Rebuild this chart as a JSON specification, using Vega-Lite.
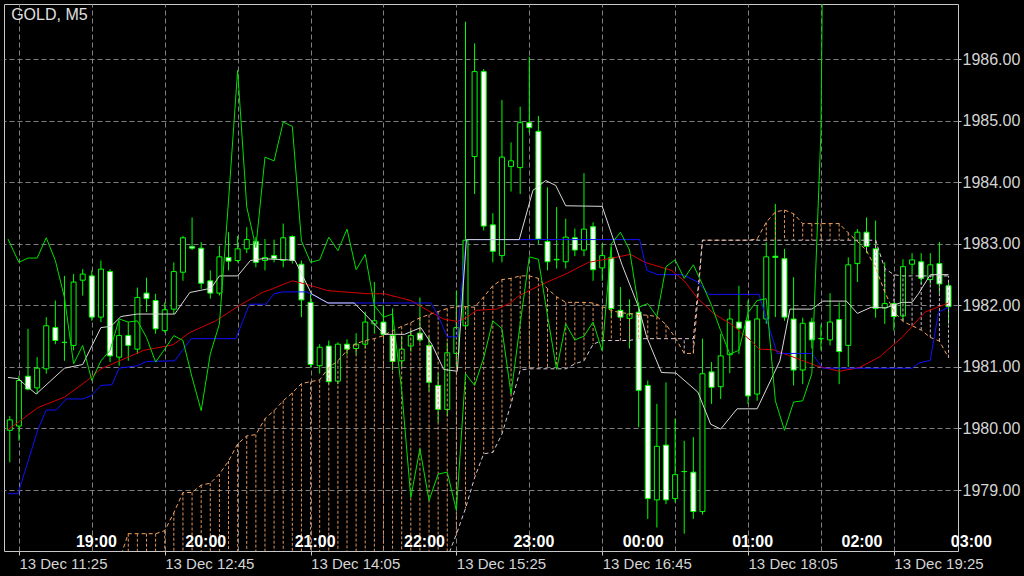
{
  "$schema": "https://vega.github.io/schema/vega-lite/v6.json",
  "width": 954,
  "height": 547,
  "autosize": {"type": "none"},
  "padding": {"left": 4, "top": 4, "right": 66, "bottom": 25},
  "background": "#000000",
  "view": {"stroke": "#c8c8c8", "strokeWidth": 1, "fill": "#000000"},
  "config": {"font": "Liberation Sans"},
  "datasets": {
    "candles": [
      {"i": -1, "o": 1979.97, "h": 1980.2, "l": 1979.45, "c": 1980.14},
      {"i": 0, "o": 1980.04, "h": 1980.86, "l": 1979.8, "c": 1980.78},
      {"i": 1, "o": 1980.85, "h": 1981.62, "l": 1980.62, "c": 1980.64},
      {"i": 2, "o": 1980.66, "h": 1981.16, "l": 1980.56, "c": 1980.98},
      {"i": 3, "o": 1980.97, "h": 1981.81, "l": 1980.89, "c": 1981.67},
      {"i": 4, "o": 1981.64, "h": 1982.08, "l": 1981.37, "c": 1981.43},
      {"i": 5, "o": 1981.4, "h": 1982.48, "l": 1981.1, "c": 1981.4},
      {"i": 6, "o": 1981.35, "h": 1982.51, "l": 1981.27, "c": 1982.38},
      {"i": 7, "o": 1982.41, "h": 1982.59, "l": 1982.16, "c": 1982.51},
      {"i": 8, "o": 1982.48, "h": 1982.57, "l": 1981.75, "c": 1981.81},
      {"i": 9, "o": 1981.81, "h": 1982.73, "l": 1981.73, "c": 1982.59},
      {"i": 10, "o": 1982.55, "h": 1982.59, "l": 1981.08, "c": 1981.18},
      {"i": 11, "o": 1981.16, "h": 1981.75, "l": 1981.02, "c": 1981.51},
      {"i": 12, "o": 1981.51, "h": 1981.73, "l": 1981.1, "c": 1981.35},
      {"i": 13, "o": 1981.29, "h": 1982.29, "l": 1981.21, "c": 1982.13},
      {"i": 14, "o": 1982.2, "h": 1982.45, "l": 1981.89, "c": 1982.11},
      {"i": 15, "o": 1982.08, "h": 1982.19, "l": 1981.54, "c": 1981.62},
      {"i": 16, "o": 1981.59, "h": 1982.05, "l": 1981.56, "c": 1981.93},
      {"i": 17, "o": 1981.94, "h": 1982.7, "l": 1981.86, "c": 1982.55},
      {"i": 18, "o": 1982.54, "h": 1983.13, "l": 1982.4, "c": 1983.1},
      {"i": 19, "o": 1982.96, "h": 1983.43, "l": 1982.9, "c": 1982.93},
      {"i": 20, "o": 1982.93, "h": 1983.03, "l": 1982.27, "c": 1982.36},
      {"i": 21, "o": 1982.4, "h": 1982.57, "l": 1982.11, "c": 1982.2},
      {"i": 22, "o": 1982.2, "h": 1982.97, "l": 1982.16, "c": 1982.79},
      {"i": 23, "o": 1982.78, "h": 1983.19, "l": 1982.57, "c": 1982.72},
      {"i": 24, "o": 1982.73, "h": 1983.13, "l": 1982.7, "c": 1982.92},
      {"i": 25, "o": 1982.92, "h": 1983.27, "l": 1982.85, "c": 1983.07},
      {"i": 26, "o": 1983.04, "h": 1983.11, "l": 1982.62, "c": 1982.7},
      {"i": 27, "o": 1982.73, "h": 1983.08, "l": 1982.57, "c": 1982.78},
      {"i": 28, "o": 1982.81, "h": 1983.07, "l": 1982.7, "c": 1982.76},
      {"i": 29, "o": 1982.73, "h": 1983.33, "l": 1982.62, "c": 1983.1},
      {"i": 30, "o": 1983.12, "h": 1983.14, "l": 1982.68, "c": 1982.73},
      {"i": 31, "o": 1982.67, "h": 1982.73, "l": 1981.81, "c": 1982.09},
      {"i": 32, "o": 1982.05, "h": 1982.19, "l": 1980.99, "c": 1981.04},
      {"i": 33, "o": 1981.02, "h": 1981.37, "l": 1980.89, "c": 1981.32},
      {"i": 34, "o": 1981.34, "h": 1981.43, "l": 1980.72, "c": 1980.76},
      {"i": 35, "o": 1980.77, "h": 1981.4, "l": 1980.72, "c": 1981.37},
      {"i": 36, "o": 1981.37, "h": 1981.45, "l": 1981.2, "c": 1981.29},
      {"i": 37, "o": 1981.3, "h": 1981.55, "l": 1981.2, "c": 1981.37},
      {"i": 38, "o": 1981.37, "h": 1981.9, "l": 1981.3, "c": 1981.73},
      {"i": 39, "o": 1981.7, "h": 1982.38, "l": 1981.54, "c": 1981.75},
      {"i": 40, "o": 1981.73, "h": 1982.0, "l": 1981.45, "c": 1981.53},
      {"i": 41, "o": 1981.51, "h": 1981.95, "l": 1980.95, "c": 1981.09},
      {"i": 42, "o": 1981.1, "h": 1981.5, "l": 1981.0, "c": 1981.29},
      {"i": 43, "o": 1981.34, "h": 1981.6, "l": 1981.25, "c": 1981.51},
      {"i": 44, "o": 1981.55, "h": 1982.13, "l": 1981.4, "c": 1981.44},
      {"i": 45, "o": 1981.35, "h": 1981.5, "l": 1980.6, "c": 1980.75},
      {"i": 46, "o": 1980.7, "h": 1980.9, "l": 1980.1, "c": 1980.31},
      {"i": 47, "o": 1980.31, "h": 1981.4, "l": 1980.2, "c": 1981.23},
      {"i": 48, "o": 1981.22, "h": 1982.24, "l": 1981.0, "c": 1981.64},
      {"i": 49, "o": 1981.67, "h": 1986.61, "l": 1981.6, "c": 1983.06},
      {"i": 50, "o": 1984.42, "h": 1986.26, "l": 1983.81, "c": 1985.8},
      {"i": 51, "o": 1985.8, "h": 1985.84, "l": 1983.22, "c": 1983.29},
      {"i": 52, "o": 1983.31, "h": 1983.5, "l": 1982.7, "c": 1982.88},
      {"i": 53, "o": 1982.81, "h": 1985.34, "l": 1982.7, "c": 1984.41},
      {"i": 54, "o": 1984.26, "h": 1984.65, "l": 1983.85, "c": 1984.35},
      {"i": 55, "o": 1984.24, "h": 1985.23, "l": 1983.81, "c": 1984.97},
      {"i": 56, "o": 1984.97, "h": 1986.04, "l": 1984.81, "c": 1984.89},
      {"i": 57, "o": 1984.83, "h": 1985.08, "l": 1983.0, "c": 1983.08},
      {"i": 58, "o": 1983.04, "h": 1983.92, "l": 1982.57, "c": 1982.71},
      {"i": 59, "o": 1982.75, "h": 1983.6, "l": 1982.6, "c": 1982.74},
      {"i": 60, "o": 1982.71, "h": 1983.41, "l": 1982.6, "c": 1983.11},
      {"i": 61, "o": 1983.1, "h": 1983.25, "l": 1982.8, "c": 1982.9},
      {"i": 62, "o": 1982.9, "h": 1984.15, "l": 1982.8, "c": 1983.24},
      {"i": 63, "o": 1983.28, "h": 1983.35, "l": 1982.4, "c": 1982.58},
      {"i": 64, "o": 1982.61, "h": 1983.0, "l": 1982.4, "c": 1982.81},
      {"i": 65, "o": 1982.78, "h": 1982.95, "l": 1981.8, "c": 1981.95},
      {"i": 66, "o": 1981.92, "h": 1982.3, "l": 1981.75, "c": 1981.81},
      {"i": 67, "o": 1981.79, "h": 1982.1, "l": 1981.3, "c": 1981.86},
      {"i": 68, "o": 1981.89, "h": 1982.05, "l": 1980.02, "c": 1980.62},
      {"i": 69, "o": 1980.7, "h": 1980.78, "l": 1978.53, "c": 1978.86},
      {"i": 70, "o": 1978.84, "h": 1980.4, "l": 1978.39, "c": 1979.71},
      {"i": 71, "o": 1979.73, "h": 1980.75, "l": 1978.77, "c": 1978.84},
      {"i": 72, "o": 1978.86, "h": 1980.16, "l": 1978.8, "c": 1979.25},
      {"i": 73, "o": 1979.3, "h": 1979.8, "l": 1978.29, "c": 1979.3},
      {"i": 74, "o": 1979.29, "h": 1979.86, "l": 1978.53, "c": 1978.65},
      {"i": 75, "o": 1978.65, "h": 1981.46, "l": 1978.6, "c": 1980.89},
      {"i": 76, "o": 1980.92, "h": 1981.08, "l": 1980.4, "c": 1980.67},
      {"i": 77, "o": 1980.68, "h": 1981.54, "l": 1980.48, "c": 1981.18},
      {"i": 78, "o": 1981.2, "h": 1981.94, "l": 1980.9, "c": 1981.78},
      {"i": 79, "o": 1981.73, "h": 1982.32, "l": 1981.21, "c": 1981.63},
      {"i": 80, "o": 1981.75, "h": 1982.08, "l": 1980.4, "c": 1980.53},
      {"i": 81, "o": 1980.56, "h": 1982.0, "l": 1980.45, "c": 1981.78},
      {"i": 82, "o": 1981.78, "h": 1983.03, "l": 1981.7, "c": 1982.79},
      {"i": 83, "o": 1982.8, "h": 1983.65, "l": 1981.81, "c": 1982.78},
      {"i": 84, "o": 1982.76, "h": 1982.92, "l": 1981.75, "c": 1981.81},
      {"i": 85, "o": 1981.78, "h": 1982.46, "l": 1980.7, "c": 1980.95},
      {"i": 86, "o": 1980.95, "h": 1981.8, "l": 1980.72, "c": 1981.71},
      {"i": 87, "o": 1981.73, "h": 1981.8, "l": 1981.3, "c": 1981.44},
      {"i": 88, "o": 1981.46, "h": 1981.69, "l": 1981.27, "c": 1981.46},
      {"i": 89, "o": 1981.44, "h": 1982.2, "l": 1981.35, "c": 1981.73},
      {"i": 90, "o": 1981.77, "h": 1982.05, "l": 1980.72, "c": 1981.25},
      {"i": 91, "o": 1981.35, "h": 1982.78, "l": 1981.0, "c": 1982.66},
      {"i": 92, "o": 1982.68, "h": 1983.24, "l": 1982.38, "c": 1983.19},
      {"i": 93, "o": 1983.19, "h": 1983.43, "l": 1982.85, "c": 1982.96},
      {"i": 94, "o": 1982.92, "h": 1983.38, "l": 1981.8, "c": 1981.95},
      {"i": 95, "o": 1981.96, "h": 1982.7, "l": 1981.7, "c": 1982.03},
      {"i": 96, "o": 1982.03, "h": 1982.05, "l": 1981.59, "c": 1981.82},
      {"i": 97, "o": 1981.83, "h": 1982.75, "l": 1981.75, "c": 1982.63},
      {"i": 98, "o": 1982.67, "h": 1982.85, "l": 1982.5, "c": 1982.74},
      {"i": 99, "o": 1982.71, "h": 1982.85, "l": 1982.35, "c": 1982.44},
      {"i": 100, "o": 1982.42, "h": 1982.85, "l": 1982.35, "c": 1982.66},
      {"i": 101, "o": 1982.68, "h": 1983.03, "l": 1982.2, "c": 1982.35},
      {"i": 102, "o": 1982.32, "h": 1982.4, "l": 1981.7, "c": 1981.98}
    ],
    "cloud": [
      {"i": 11, "a": 1977.85, "b": 1977.8}, {"i": 12, "a": 1978.29, "b": 1977.8},
      {"i": 13, "a": 1978.29, "b": 1977.8}, {"i": 14, "a": 1978.29, "b": 1977.8},
      {"i": 15, "a": 1978.29, "b": 1977.8}, {"i": 16, "a": 1978.34, "b": 1977.8},
      {"i": 17, "a": 1978.63, "b": 1977.8}, {"i": 18, "a": 1978.96, "b": 1977.8},
      {"i": 19, "a": 1978.96, "b": 1977.8}, {"i": 20, "a": 1979.08, "b": 1977.8},
      {"i": 21, "a": 1979.11, "b": 1977.8}, {"i": 22, "a": 1979.26, "b": 1977.8},
      {"i": 23, "a": 1979.47, "b": 1977.8}, {"i": 24, "a": 1979.75, "b": 1977.8},
      {"i": 25, "a": 1979.88, "b": 1977.8}, {"i": 26, "a": 1979.9, "b": 1977.8},
      {"i": 27, "a": 1980.16, "b": 1977.8}, {"i": 28, "a": 1980.29, "b": 1977.8},
      {"i": 29, "a": 1980.45, "b": 1977.8}, {"i": 30, "a": 1980.58, "b": 1977.8},
      {"i": 31, "a": 1980.73, "b": 1977.8}, {"i": 32, "a": 1980.76, "b": 1977.8},
      {"i": 33, "a": 1980.79, "b": 1977.8}, {"i": 34, "a": 1980.99, "b": 1977.8},
      {"i": 35, "a": 1981.1, "b": 1977.8}, {"i": 36, "a": 1981.27, "b": 1977.8},
      {"i": 37, "a": 1981.38, "b": 1977.8}, {"i": 38, "a": 1981.43, "b": 1977.8},
      {"i": 39, "a": 1981.46, "b": 1977.8}, {"i": 40, "a": 1981.51, "b": 1977.8},
      {"i": 41, "a": 1981.59, "b": 1977.8}, {"i": 42, "a": 1981.66, "b": 1977.8},
      {"i": 43, "a": 1981.72, "b": 1977.8}, {"i": 44, "a": 1981.8, "b": 1977.8},
      {"i": 45, "a": 1981.85, "b": 1977.8}, {"i": 46, "a": 1981.9, "b": 1977.8},
      {"i": 47, "a": 1981.95, "b": 1977.9}, {"i": 48, "a": 1981.98, "b": 1978.28},
      {"i": 49, "a": 1981.98, "b": 1978.7}, {"i": 50, "a": 1981.97, "b": 1979.2},
      {"i": 51, "a": 1982.14, "b": 1979.59}, {"i": 52, "a": 1982.32, "b": 1979.61},
      {"i": 53, "a": 1982.42, "b": 1979.91}, {"i": 54, "a": 1982.44, "b": 1980.4},
      {"i": 55, "a": 1982.48, "b": 1980.95}, {"i": 56, "a": 1982.48, "b": 1980.97},
      {"i": 57, "a": 1982.44, "b": 1980.97}, {"i": 58, "a": 1982.27, "b": 1980.97},
      {"i": 59, "a": 1982.14, "b": 1980.97}, {"i": 60, "a": 1982.05, "b": 1980.97},
      {"i": 61, "a": 1982.05, "b": 1981.05}, {"i": 62, "a": 1982.05, "b": 1981.1},
      {"i": 63, "a": 1982.04, "b": 1981.37}, {"i": 64, "a": 1981.98, "b": 1981.43},
      {"i": 65, "a": 1981.92, "b": 1981.43}, {"i": 66, "a": 1981.88, "b": 1981.43},
      {"i": 67, "a": 1981.87, "b": 1981.43}, {"i": 68, "a": 1981.85, "b": 1981.46},
      {"i": 69, "a": 1981.84, "b": 1981.46}, {"i": 70, "a": 1981.82, "b": 1981.46},
      {"i": 71, "a": 1981.69, "b": 1981.46}, {"i": 72, "a": 1981.48, "b": 1981.46},
      {"i": 73, "a": 1981.22, "b": 1981.46}, {"i": 74, "a": 1981.22, "b": 1981.46},
      {"i": 75, "a": 1983.06, "b": 1983.06}, {"i": 76, "a": 1983.06, "b": 1983.06},
      {"i": 77, "a": 1983.06, "b": 1983.06}, {"i": 78, "a": 1983.06, "b": 1983.06},
      {"i": 79, "a": 1983.06, "b": 1983.06}, {"i": 80, "a": 1983.06, "b": 1983.06},
      {"i": 81, "a": 1983.08, "b": 1983.06}, {"i": 82, "a": 1983.35, "b": 1983.06},
      {"i": 83, "a": 1983.52, "b": 1983.06}, {"i": 84, "a": 1983.55, "b": 1983.06},
      {"i": 85, "a": 1983.49, "b": 1983.06}, {"i": 86, "a": 1983.33, "b": 1983.06},
      {"i": 87, "a": 1983.33, "b": 1983.06}, {"i": 88, "a": 1983.33, "b": 1983.06},
      {"i": 89, "a": 1983.33, "b": 1983.06}, {"i": 90, "a": 1983.33, "b": 1983.06},
      {"i": 91, "a": 1983.18, "b": 1983.06}, {"i": 92, "a": 1983.04, "b": 1983.06},
      {"i": 93, "a": 1982.89, "b": 1983.06}, {"i": 94, "a": 1982.61, "b": 1983.06},
      {"i": 95, "a": 1982.22, "b": 1982.6}, {"i": 96, "a": 1981.9, "b": 1982.5},
      {"i": 97, "a": 1981.74, "b": 1982.48}, {"i": 98, "a": 1981.67, "b": 1982.48},
      {"i": 99, "a": 1981.6, "b": 1982.48}, {"i": 100, "a": 1981.48, "b": 1982.48},
      {"i": 101, "a": 1981.42, "b": 1982.48}, {"i": 102, "a": 1981.15, "b": 1982.48}
    ],
    "red": [
      {"i": -1.2, "v": 1979.98}, {"i": 2.1, "v": 1980.34}, {"i": 5, "v": 1980.51}, {"i": 7.5, "v": 1980.78},
      {"i": 9, "v": 1980.97}, {"i": 13.7, "v": 1981.27}, {"i": 16.9, "v": 1981.36}, {"i": 18.75, "v": 1981.56},
      {"i": 21.6, "v": 1981.75}, {"i": 24.2, "v": 1982.0}, {"i": 26.7, "v": 1982.21}, {"i": 27.8, "v": 1982.27},
      {"i": 30, "v": 1982.4}, {"i": 31.4, "v": 1982.35}, {"i": 33.9, "v": 1982.24}, {"i": 38.3, "v": 1982.19},
      {"i": 40.1, "v": 1982.19}, {"i": 43, "v": 1982.08}, {"i": 45.2, "v": 1981.89}, {"i": 46.6, "v": 1981.78},
      {"i": 48.1, "v": 1981.74}, {"i": 49.1, "v": 1981.8}, {"i": 50.2, "v": 1981.92}, {"i": 52.4, "v": 1981.94},
      {"i": 53.8, "v": 1982.03}, {"i": 54.9, "v": 1982.16}, {"i": 57.5, "v": 1982.35}, {"i": 60, "v": 1982.51},
      {"i": 62.5, "v": 1982.7}, {"i": 65.1, "v": 1982.77}, {"i": 67.1, "v": 1982.83}, {"i": 68.7, "v": 1982.7},
      {"i": 71.6, "v": 1982.57}, {"i": 73, "v": 1982.4}, {"i": 74.5, "v": 1982.11}, {"i": 76.3, "v": 1981.86},
      {"i": 78.1, "v": 1981.7}, {"i": 80.3, "v": 1981.43}, {"i": 81.2, "v": 1981.29}, {"i": 82.8, "v": 1981.28},
      {"i": 84.6, "v": 1981.18}, {"i": 87.5, "v": 1981.02}, {"i": 90, "v": 1980.93}, {"i": 92.2, "v": 1980.99},
      {"i": 94.4, "v": 1981.16}, {"i": 96.9, "v": 1981.48}, {"i": 99.4, "v": 1981.89}, {"i": 102, "v": 1982.04}
    ],
    "blue": [
      {"i": -1.2, "v": 1978.94}, {"i": -0.1, "v": 1978.94}, {"i": 2.1, "v": 1979.99}, {"i": 3, "v": 1980.3},
      {"i": 4.1, "v": 1980.3}, {"i": 5.2, "v": 1980.48}, {"i": 7, "v": 1980.48}, {"i": 7.9, "v": 1980.53},
      {"i": 9, "v": 1980.7}, {"i": 10.2, "v": 1980.71}, {"i": 11, "v": 1980.98}, {"i": 13, "v": 1981.02},
      {"i": 14, "v": 1981.09}, {"i": 17.1, "v": 1981.1}, {"i": 18.9, "v": 1981.46}, {"i": 23.8, "v": 1981.46},
      {"i": 25.3, "v": 1982.02}, {"i": 27.1, "v": 1982.02}, {"i": 28, "v": 1982.19}, {"i": 28.9, "v": 1982.22},
      {"i": 31.6, "v": 1982.22}, {"i": 33.9, "v": 1982.04}, {"i": 45.2, "v": 1982.04}, {"i": 45.9, "v": 1981.86},
      {"i": 47, "v": 1981.49}, {"i": 48.1, "v": 1981.49}, {"i": 48.8, "v": 1982.65}, {"i": 49.1, "v": 1983.07},
      {"i": 68.1, "v": 1983.07}, {"i": 68.9, "v": 1982.57}, {"i": 70.1, "v": 1982.5}, {"i": 72.8, "v": 1982.5},
      {"i": 74.5, "v": 1982.38}, {"i": 75.7, "v": 1982.18}, {"i": 81.2, "v": 1982.18}, {"i": 83.2, "v": 1981.22},
      {"i": 87, "v": 1981.22}, {"i": 88.2, "v": 1980.98}, {"i": 98, "v": 1980.98}, {"i": 98.7, "v": 1981.06},
      {"i": 100, "v": 1981.11}, {"i": 100.9, "v": 1981.89}, {"i": 102, "v": 1981.97}
    ],
    "white": [
      {"i": -1.2, "v": 1980.83}, {"i": -0.1, "v": 1980.81}, {"i": 1.9, "v": 1980.56}, {"i": 5, "v": 1980.98},
      {"i": 7, "v": 1981.04}, {"i": 9, "v": 1981.64}, {"i": 10.1, "v": 1981.66}, {"i": 11.2, "v": 1981.82},
      {"i": 13, "v": 1981.86}, {"i": 17.1, "v": 1981.86}, {"i": 18.75, "v": 1982.21}, {"i": 21.1, "v": 1982.28},
      {"i": 22, "v": 1982.48}, {"i": 24, "v": 1982.48}, {"i": 25.4, "v": 1982.73}, {"i": 26.7, "v": 1982.76},
      {"i": 29.6, "v": 1982.74}, {"i": 30.3, "v": 1982.73}, {"i": 32.1, "v": 1982.19}, {"i": 33.9, "v": 1982.04},
      {"i": 36.8, "v": 1982.04}, {"i": 40.1, "v": 1981.53}, {"i": 42.3, "v": 1981.53}, {"i": 44.1, "v": 1981.64},
      {"i": 45.3, "v": 1981.37}, {"i": 46.6, "v": 1980.96}, {"i": 48.1, "v": 1980.93}, {"i": 49.1, "v": 1983.07},
      {"i": 54.9, "v": 1983.07}, {"i": 56.4, "v": 1983.87}, {"i": 57.8, "v": 1984.03}, {"i": 58.9, "v": 1983.95},
      {"i": 60, "v": 1983.62}, {"i": 64, "v": 1983.61}, {"i": 66.2, "v": 1982.65}, {"i": 68, "v": 1981.97},
      {"i": 68.9, "v": 1981.48}, {"i": 70.5, "v": 1980.91}, {"i": 72.1, "v": 1980.9}, {"i": 74.5, "v": 1980.59},
      {"i": 75.9, "v": 1980.07}, {"i": 77, "v": 1979.99}, {"i": 78.8, "v": 1980.32}, {"i": 81, "v": 1980.32},
      {"i": 83.5, "v": 1981.1}, {"i": 84.6, "v": 1981.94}, {"i": 87, "v": 1981.94}, {"i": 88.2, "v": 1982.07},
      {"i": 90.8, "v": 1982.07}, {"i": 92, "v": 1981.87}, {"i": 93.5, "v": 1981.97}, {"i": 95.1, "v": 1981.96},
      {"i": 96.9, "v": 1982.05}, {"i": 98, "v": 1982.05}, {"i": 98.7, "v": 1982.19}, {"i": 100, "v": 1982.5},
      {"i": 102, "v": 1982.5}
    ],
    "green": [
      {"i": -1.2, "v": 1983.08}, {"i": 0, "v": 1982.7}, {"i": 1, "v": 1982.77}, {"i": 2, "v": 1982.77},
      {"i": 3, "v": 1983.1}, {"i": 4, "v": 1982.73}, {"i": 5, "v": 1982.13}, {"i": 6, "v": 1981.05},
      {"i": 7, "v": 1981.35}, {"i": 8, "v": 1980.78}, {"i": 9, "v": 1981.1}, {"i": 10, "v": 1981.27},
      {"i": 11, "v": 1981.78}, {"i": 12, "v": 1981.73}, {"i": 13, "v": 1981.75}, {"i": 14, "v": 1981.48},
      {"i": 15, "v": 1981.08}, {"i": 16, "v": 1981.29}, {"i": 17, "v": 1981.51}, {"i": 18, "v": 1981.43},
      {"i": 19, "v": 1980.83}, {"i": 20, "v": 1980.29}, {"i": 21, "v": 1981.21}, {"i": 22, "v": 1981.7},
      {"i": 23, "v": 1983.7}, {"i": 24, "v": 1985.82}, {"i": 25, "v": 1983.6}, {"i": 26, "v": 1982.94},
      {"i": 27, "v": 1984.41}, {"i": 28, "v": 1984.35}, {"i": 29, "v": 1984.98}, {"i": 30, "v": 1984.91},
      {"i": 31, "v": 1983.05}, {"i": 32, "v": 1982.7}, {"i": 33, "v": 1982.74}, {"i": 34, "v": 1983.11},
      {"i": 35, "v": 1982.89}, {"i": 36, "v": 1983.24}, {"i": 37, "v": 1982.58}, {"i": 38, "v": 1982.83},
      {"i": 39, "v": 1982.0}, {"i": 40, "v": 1981.81}, {"i": 41, "v": 1981.86}, {"i": 42, "v": 1980.62},
      {"i": 43, "v": 1978.88}, {"i": 44, "v": 1979.67}, {"i": 45, "v": 1978.83}, {"i": 46, "v": 1979.26},
      {"i": 47, "v": 1979.29}, {"i": 48, "v": 1978.67}, {"i": 49, "v": 1980.89}, {"i": 50, "v": 1980.7},
      {"i": 51, "v": 1981.15}, {"i": 52, "v": 1981.75}, {"i": 53, "v": 1981.62}, {"i": 54, "v": 1980.56},
      {"i": 55, "v": 1981.7}, {"i": 56, "v": 1982.79}, {"i": 57, "v": 1982.75}, {"i": 58, "v": 1981.83},
      {"i": 59, "v": 1980.96}, {"i": 60, "v": 1981.7}, {"i": 61, "v": 1981.44}, {"i": 62, "v": 1981.5},
      {"i": 63, "v": 1981.73}, {"i": 64, "v": 1981.26}, {"i": 65, "v": 1983.0}, {"i": 66, "v": 1983.19},
      {"i": 67, "v": 1982.9}, {"i": 68, "v": 1981.97}, {"i": 69, "v": 1982.03}, {"i": 70, "v": 1981.82},
      {"i": 71, "v": 1982.63}, {"i": 72, "v": 1982.74}, {"i": 73, "v": 1982.44}, {"i": 74, "v": 1982.66},
      {"i": 75, "v": 1982.34}, {"i": 76, "v": 1982.0}, {"i": 77, "v": 1981.59}, {"i": 78, "v": 1981.21},
      {"i": 79, "v": 1981.27}, {"i": 80, "v": 1981.88}, {"i": 81, "v": 1982.08}, {"i": 82, "v": 1982.11},
      {"i": 83, "v": 1980.45}, {"i": 84, "v": 1979.97}, {"i": 85, "v": 1980.43}, {"i": 86, "v": 1980.45},
      {"i": 87, "v": 1980.89}, {"i": 88, "v": 1984.81}, {"i": 89, "v": 2000.0}
    ],
    "hours": [
      {"i": 8.5, "t": "19:00"}, {"i": 20.5, "t": "20:00"}, {"i": 32.5, "t": "21:00"},
      {"i": 44.5, "t": "22:00"}, {"i": 56.5, "t": "23:00"}, {"i": 68.5, "t": "00:00"},
      {"i": 80.5, "t": "01:00"}, {"i": 92.5, "t": "02:00"}, {"i": 104.5, "t": "03:00"}
    ],
    "title": [{"t": "GOLD, M5"}]
  },
  "resolve": {"scale": {"x": "shared", "y": "shared"}, "axis": {"x": "independent", "y": "independent"}},
  "layer": [
    {
      "data": {"name": "candles"},
      "mark": {"type": "rule", "stroke": "#00ff00", "strokeWidth": 1, "clip": true},
      "encoding": {
        "x": {"field": "i", "type": "quantitative",
          "scale": {"domain": [-1.086, 102.49], "nice": false, "zero": false},
          "axis": {"orient": "top", "values": [0, 8, 16, 24, 32, 40, 48, 56, 64, 72, 80, 88, 96],
            "grid": true, "gridColor": "#808080", "gridDash": [5, 3], "gridWidth": 1,
            "labels": false, "ticks": false, "domain": false, "title": null}},
        "y": {"field": "l", "type": "quantitative",
          "scale": {"domain": [1978.009, 1986.899], "nice": false, "zero": false},
          "axis": {"orient": "right", "values": [1979, 1980, 1981, 1982, 1983, 1984, 1985, 1986],
            "format": ".2f", "grid": true, "gridColor": "#808080", "gridDash": [5, 3], "gridWidth": 1,
            "domain": false, "ticks": true, "tickSize": 3, "tickColor": "#c8c8c8",
            "labelColor": "#d4d4d4", "labelFontSize": 16, "labelFont": "Liberation Sans",
            "labelPadding": 1, "labelBaseline": "middle", "title": null}},
        "y2": {"field": "h"}
      }
    },
    {
      "data": {"name": "candles"},
      "mark": {"type": "bar", "size": 5, "stroke": "#00ff00", "strokeWidth": 1, "clip": true},
      "encoding": {
        "x": {"field": "i", "type": "quantitative",
          "scale": {"domain": [-1.086, 102.49], "nice": false, "zero": false},
          "axis": {"orient": "bottom", "values": [0, 16, 32, 48, 64, 80, 96],
            "labelExpr": "['13 Dec 11:25','13 Dec 12:45','13 Dec 14:05','13 Dec 15:25','13 Dec 16:45','13 Dec 18:05','13 Dec 19:25'][round(datum.value/16)]",
            "grid": false, "domain": false, "ticks": true, "tickSize": 4, "tickColor": "#c8c8c8",
            "labelAlign": "left", "labelBaseline": "top", "labelPadding": 1,
            "labelColor": "#d4d4d4", "labelFontSize": 15, "labelFont": "Liberation Sans",
            "labelOverlap": false, "labelFlush": false, "labelBound": false, "title": null}},
        "y": {"field": "o", "type": "quantitative",
          "scale": {"domain": [1978.009, 1986.899], "nice": false, "zero": false}, "axis": null},
        "y2": {"field": "c"},
        "fill": {"condition": {"test": "datum.c < datum.o", "value": "#ffffff"}, "value": "#000000"}
      }
    },
    {
      "data": {"name": "cloud"},
      "mark": {"type": "rule", "strokeWidth": 1, "strokeDash": [3, 2], "clip": true},
      "encoding": {
        "x": {"field": "i", "type": "quantitative",
          "scale": {"domain": [-1.086, 102.49], "nice": false, "zero": false}, "axis": null},
        "y": {"field": "a", "type": "quantitative",
          "scale": {"domain": [1978.009, 1986.899], "nice": false, "zero": false}, "axis": null},
        "y2": {"field": "b"},
        "stroke": {"condition": {"test": "datum.a >= datum.b", "value": "#e0935a"}, "value": "#cdb6cd"}
      }
    },
    {
      "data": {"name": "cloud"},
      "mark": {"type": "line", "stroke": "#f4a460", "strokeWidth": 1, "strokeDash": [4, 3], "clip": true},
      "encoding": {
        "x": {"field": "i", "type": "quantitative",
          "scale": {"domain": [-1.086, 102.49], "nice": false, "zero": false}, "axis": null},
        "y": {"field": "a", "type": "quantitative",
          "scale": {"domain": [1978.009, 1986.899], "nice": false, "zero": false}, "axis": null}
      }
    },
    {
      "data": {"name": "cloud"},
      "mark": {"type": "line", "stroke": "#d8c8d8", "strokeWidth": 1, "strokeDash": [4, 3], "clip": true},
      "encoding": {
        "x": {"field": "i", "type": "quantitative",
          "scale": {"domain": [-1.086, 102.49], "nice": false, "zero": false}, "axis": null},
        "y": {"field": "b", "type": "quantitative",
          "scale": {"domain": [1978.009, 1986.899], "nice": false, "zero": false}, "axis": null}
      }
    },
    {
      "data": {"name": "red"},
      "mark": {"type": "line", "stroke": "#d40000", "strokeWidth": 1, "clip": true},
      "encoding": {
        "x": {"field": "i", "type": "quantitative",
          "scale": {"domain": [-1.086, 102.49], "nice": false, "zero": false}, "axis": null},
        "y": {"field": "v", "type": "quantitative",
          "scale": {"domain": [1978.009, 1986.899], "nice": false, "zero": false}, "axis": null}
      }
    },
    {
      "data": {"name": "blue"},
      "mark": {"type": "line", "stroke": "#1010ff", "strokeWidth": 1, "clip": true},
      "encoding": {
        "x": {"field": "i", "type": "quantitative",
          "scale": {"domain": [-1.086, 102.49], "nice": false, "zero": false}, "axis": null},
        "y": {"field": "v", "type": "quantitative",
          "scale": {"domain": [1978.009, 1986.899], "nice": false, "zero": false}, "axis": null}
      }
    },
    {
      "data": {"name": "white"},
      "mark": {"type": "line", "stroke": "#d8d8d8", "strokeWidth": 1, "clip": true},
      "encoding": {
        "x": {"field": "i", "type": "quantitative",
          "scale": {"domain": [-1.086, 102.49], "nice": false, "zero": false}, "axis": null},
        "y": {"field": "v", "type": "quantitative",
          "scale": {"domain": [1978.009, 1986.899], "nice": false, "zero": false}, "axis": null}
      }
    },
    {
      "data": {"name": "green"},
      "mark": {"type": "line", "stroke": "#00e000", "strokeWidth": 1, "clip": true},
      "encoding": {
        "x": {"field": "i", "type": "quantitative",
          "scale": {"domain": [-1.086, 102.49], "nice": false, "zero": false}, "axis": null},
        "y": {"field": "v", "type": "quantitative",
          "scale": {"domain": [1978.009, 1986.899], "nice": false, "zero": false}, "axis": null}
      }
    },
    {
      "data": {"name": "hours"},
      "mark": {"type": "text", "color": "#ffffff", "fontSize": 16, "fontWeight": "bold",
        "font": "Liberation Sans", "align": "center", "baseline": "middle", "clip": false},
      "encoding": {
        "x": {"field": "i", "type": "quantitative",
          "scale": {"domain": [-1.086, 102.49], "nice": false, "zero": false}, "axis": null},
        "y": {"datum": 1978.16, "type": "quantitative",
          "scale": {"domain": [1978.009, 1986.899], "nice": false, "zero": false}, "axis": null},
        "text": {"field": "t"}
      }
    },
    {
      "data": {"name": "title"},
      "mark": {"type": "text", "color": "#e0e0e0", "fontSize": 16, "font": "Liberation Sans",
        "align": "left", "baseline": "middle", "clip": false},
      "encoding": {
        "x": {"datum": -0.85, "type": "quantitative",
          "scale": {"domain": [-1.086, 102.49], "nice": false, "zero": false}, "axis": null},
        "y": {"datum": 1986.72, "type": "quantitative",
          "scale": {"domain": [1978.009, 1986.899], "nice": false, "zero": false}, "axis": null},
        "text": {"field": "t"}
      }
    }
  ]
}
